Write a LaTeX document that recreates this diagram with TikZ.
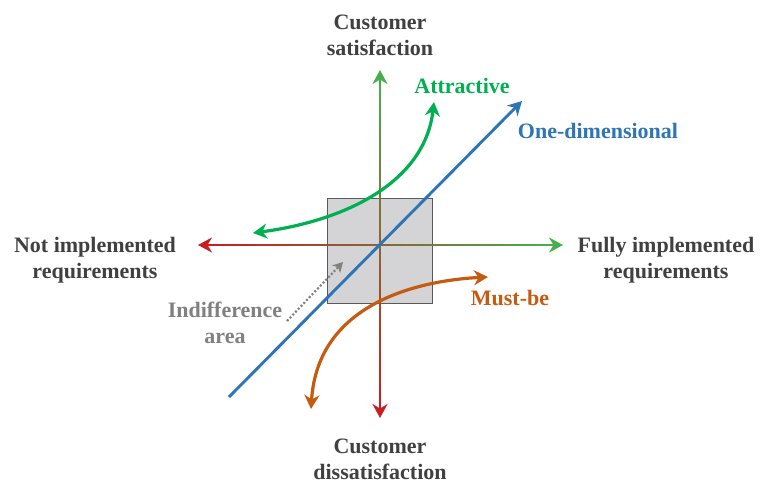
\documentclass[tikz,border=0pt]{standalone}
\usepackage{fontspec}
\setmainfont{Liberation Serif}
\usetikzlibrary{arrows.meta,calc}

\definecolor{axisgreen}{RGB}{70,175,75}
\definecolor{axisred}{RGB}{200,30,35}
\definecolor{attrgreen}{RGB}{0,176,80}
\definecolor{onedblue}{RGB}{46,117,182}
\definecolor{mustorange}{RGB}{197,90,17}
\definecolor{indgray}{RGB}{128,128,128}
\definecolor{textgray}{RGB}{64,64,64}
\definecolor{boxfill}{RGB}{212,211,214}
\definecolor{boxline}{RGB}{90,90,90}

\begin{document}
\begin{tikzpicture}[x=1pt, y=-1pt,
    lbl/.style={font=\bfseries\fontsize{22}{26}\selectfont, text=textgray, align=center, inner sep=0pt},
    axisline/.style={line width=2.5pt},
    tip/.style={-{Stealth[length=14pt, width=15pt, inset=4.5pt]}},
    curve/.style={line width=3.2pt, {Stealth[length=14pt, width=15pt, inset=4.5pt]}-{Stealth[length=14pt, width=15pt, inset=4.5pt]}}
]
    \useasboundingbox (0,0) rectangle (761,485);

    % Indifference area
    \node[draw=boxline, fill=boxfill, line width=1pt, minimum width=105pt, minimum height=105pt, inner sep=0pt] (box) at (379.5,250.5) {};

    % Axis end points
    \coordinate (o) at (380,245);
    \coordinate (top) at (380,70);
    \coordinate (bot) at (380,418);
    \coordinate (lft) at (198,245);
    \coordinate (rgt) at (563,245);

    % Axes (red to green)
    \foreach \i in {0,...,29}{
        \pgfmathsetmacro\ta{0.04+0.92*\i/30}
        \pgfmathsetmacro\tb{0.04+0.92*(\i+1.2)/30}
        \pgfmathtruncatemacro\pc{100*(\i+0.5)/30}
        \draw[axisline, color=axisgreen!\pc!axisred] ($(lft)!\ta!(rgt)$) -- ($(lft)!\tb!(rgt)$);
        \draw[axisline, color=axisgreen!\pc!axisred] ($(bot)!\ta!(top)$) -- ($(bot)!\tb!(top)$);
    }
    \draw[axisline, tip, axisred] ($(lft)!0.05!(rgt)$) -- (lft);
    \draw[axisline, tip, axisgreen] ($(rgt)!0.05!(lft)$) -- (rgt);
    \draw[axisline, tip, axisgreen] ($(top)!0.05!(bot)$) -- (top);
    \draw[axisline, tip, axisred] ($(bot)!0.05!(top)$) -- (bot);

    % One-dimensional
    \coordinate (oned0) at (229,397);
    \coordinate (oned1) at (522,101);
    \draw[onedblue, line width=2.9pt, tip] (oned0) -- (oned1);

    % Attractive
    \coordinate (attr0) at (253,233);
    \coordinate (attr1) at (434,102);
    \draw[attrgreen, curve] (attr0) .. controls (350,220) and (425,180) .. (attr1);

    % Must-be
    \coordinate (must0) at (311,409);
    \coordinate (must1) at (488,277);
    \draw[mustorange, curve] (must0) .. controls (318,298) and (429,280) .. (must1);

    % Indifference pointer
    \coordinate (ind0) at (287,321);
    \coordinate (ind1) at (343,262);
    \draw[indgray, line width=2.2pt, dash pattern=on 2pt off 2pt, -{Stealth[length=10pt, width=11pt, inset=3pt]}] (ind0) -- (ind1);

    % Labels
    \node[lbl] (sat) at (380,35) {Customer\\satisfaction};
    \node[lbl] (dissat) at (380,459) {Customer\\dissatisfaction};
    \node[lbl] (notimpl) at (95,260) {Not implemented\\requirements};
    \node[lbl] (fullimpl) at (666,260) {Fully implemented\\requirements};
    \node[lbl, text=attrgreen, anchor=base] (attr) at (462,93) {Attractive};
    \node[lbl, text=onedblue, anchor=base] (oned) at (598,138) {One-dimensional};
    \node[lbl, text=mustorange, anchor=base] (must) at (510,305) {Must-be};
    \node[lbl, text=indgray] (indarea) at (225,323) {Indifference\\area};
\end{tikzpicture}
\end{document}
